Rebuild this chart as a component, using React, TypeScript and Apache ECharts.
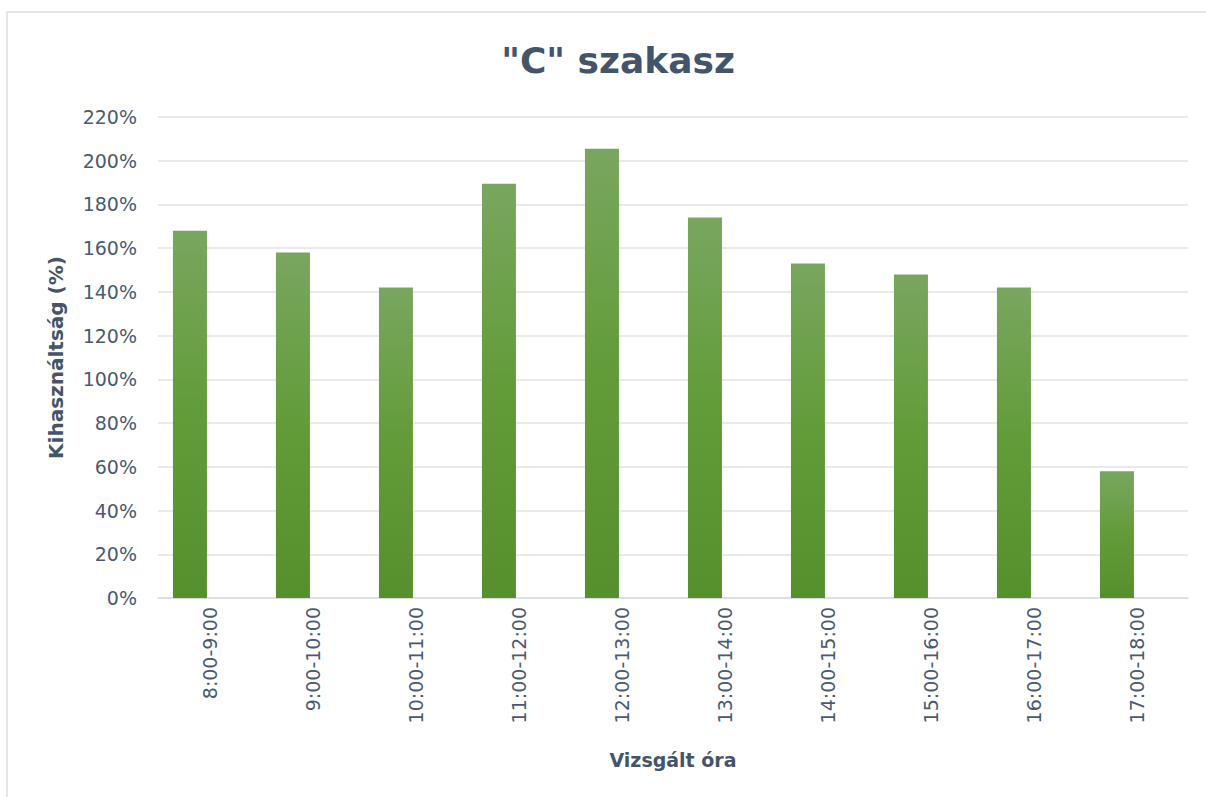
import React, { useEffect, useRef } from "react";
import * as echarts from "echarts";

const categories = [
  "8:00-9:00",
  "9:00-10:00",
  "10:00-11:00",
  "11:00-12:00",
  "12:00-13:00",
  "13:00-14:00",
  "14:00-15:00",
  "15:00-16:00",
  "16:00-17:00",
  "17:00-18:00",
];
const utilization = [168, 158, 142, 189.5, 205.5, 174, 153, 148, 142, 58];
const emptySeries = categories.map(() => null);

const TITLE = '"C" szakasz';
const Y_NAME = "Kihasználtság (%)";
const X_NAME = "Vizsgált óra";

const FONT = "'DejaVu Sans', sans-serif";
const TEXT = "#44546a";

export default function App() {
  const ref = useRef<HTMLDivElement>(null);
  useEffect(() => {
    if (!ref.current) return;
    const chart = echarts.init(ref.current, null, { renderer: "svg" });
    chart.setOption({
      animation: false,
      backgroundColor: "#ffffff",
      title: {
        text: TITLE,
        left: 613,
        textAlign: "center",
        top: 37,
        textStyle: { fontFamily: FONT, fontSize: 36, fontWeight: "bold", color: TEXT },
      },
      graphic: [
        {
          type: "rect",
          shape: { x: 7, y: 12, width: 1260, height: 860 },
          style: { fill: "none", stroke: "#d9dde3", lineWidth: 1.5 },
          silent: true,
        },
      ],
      grid: { left: 158, right: 18, top: 117, bottom: 199 },
      xAxis: {
        type: "category",
        data: categories,
        name: X_NAME,
        nameLocation: "middle",
        nameGap: 152,
        nameTextStyle: { fontFamily: FONT, fontSize: 19, fontWeight: "bold", color: TEXT },
        axisTick: { show: false },
        axisLine: { lineStyle: { color: "#d9dde3", width: 1.5 } },
        axisLabel: {
          rotate: 90,
          margin: 9,
          fontFamily: FONT,
          fontSize: 19,
          color: "#4a5a70",
        },
      },
      yAxis: {
        type: "value",
        min: 0,
        max: 220,
        interval: 20,
        name: Y_NAME,
        nameLocation: "middle",
        nameGap: 92,
        nameTextStyle: { fontFamily: FONT, fontSize: 20, fontWeight: "bold", color: TEXT },
        axisLine: { show: false },
        axisTick: { show: false },
        splitLine: { lineStyle: { color: "#dfe3e8", width: 1.5 } },
        axisLabel: {
          formatter: "{value}%",
          margin: 21,
          fontFamily: FONT,
          fontSize: 19,
          color: "#4a5a70",
        },
      },
      series: [
        {
          type: "bar",
          data: utilization,
          barWidth: 34,
          barGap: "15%",
          itemStyle: {
            color: new echarts.graphic.LinearGradient(0, 0, 0, 1, [
              { offset: 0, color: "#79a65f" },
              { offset: 0.5, color: "#619c38" },
              { offset: 1, color: "#55902d" },
            ]),
          },
        },
        {
          type: "bar",
          data: emptySeries,
          barWidth: 34,
          barGap: "15%",
          itemStyle: { color: "#ffffff" },
        },
      ],
    });
    return () => chart.dispose();
  }, []);
  return (
    <div
      ref={ref}
      style={{ position: "fixed", left: 0, top: 0, width: 1206, height: 797 }}
    />
  );
}
